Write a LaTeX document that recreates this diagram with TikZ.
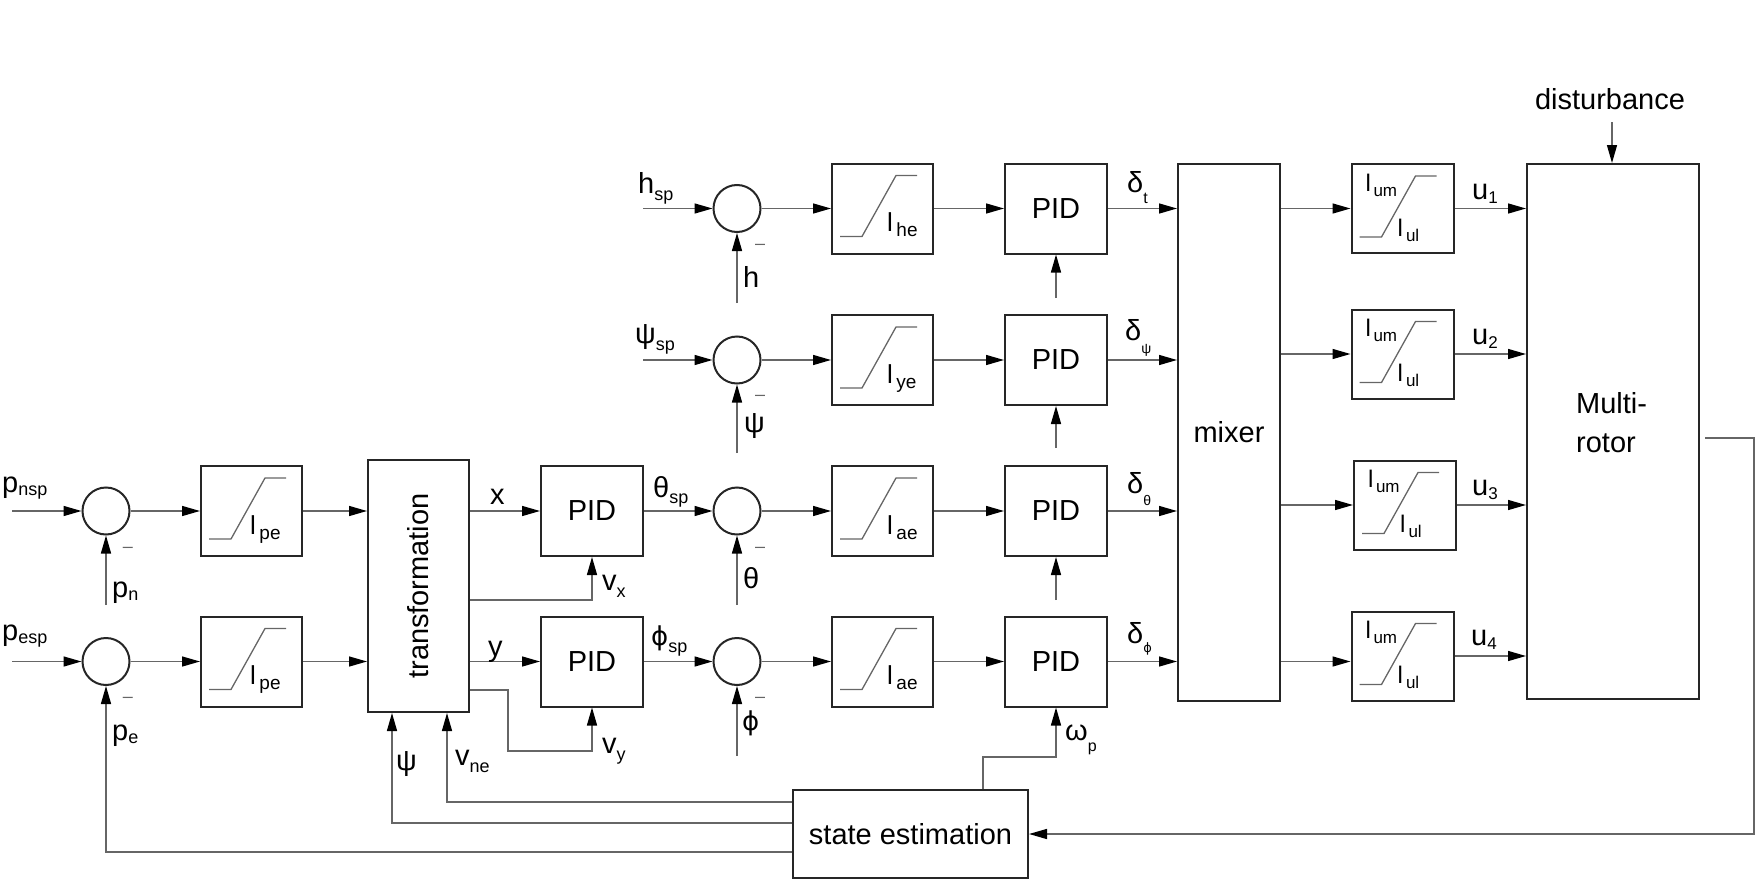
\documentclass[tikz,border=0pt]{standalone}
\usepackage{fontspec}
\setmainfont{Liberation Sans}
\newfontfamily\grk{DejaVu Sans}
\usetikzlibrary{arrows.meta}
\newcommand\fsz[1]{\fontsize{#1}{#1}\selectfont}
\newcommand\sbs[3]{\raisebox{-#1pt}{\fsz{#2}#3}}
\newcommand\phig{{\grk ϕ}}
\begin{document}
\begin{tikzpicture}[x=1pt,y=-1pt,
  box/.style={draw=black!85, line width=2pt, inner sep=0pt, font=\fsz{29}},
  sumc/.style={circle, draw=black!85, line width=2pt, minimum size=47pt, inner sep=0pt},
  conn/.style={draw=black!60, line width=1.4pt},
  arr/.style={conn, -{Triangle[length=18pt,width=10pt,color=black]}},
  glyph/.style={draw=black!60, line width=1.3pt},
  lab/.style={anchor=base west, inner sep=0pt, font=\fsz{29}},
  blab/.style={anchor=base west, inner sep=0pt, font=\fsz{26}},
  ulab/.style={anchor=base west, inner sep=0pt, font=\fsz{24}},
  minus/.style={inner sep=0pt, font=\fsz{18}, text=black!60},
  lbox/.style={box, minimum width=101pt, minimum height=90pt},
  pbox/.style={box, minimum width=102pt, minimum height=90pt},
  ubox/.style={box, minimum width=102pt, minimum height=89pt},
]
\path[use as bounding box] (0,0) rectangle (1757,883);

% summing junctions
\node[sumc] (c1) at (106,511) {};
\node[sumc] (c2) at (106,661.5) {};
\node[sumc] (ch) at (737,208.5) {};
\node[sumc] (cy) at (737,360) {};
\node[sumc] (c3) at (737,511) {};
\node[sumc] (c4) at (737,661.5) {};

% limiter boxes
\node[lbox] (lpe1) at (251.5,511) {};
\node[lbox] (lpe2) at (251.5,661.5) {};
\node[lbox] (lhe) at (882.5,208.5) {};
\node[lbox] (lye) at (882.5,360) {};
\node[lbox] (lae1) at (882.5,511) {};
\node[lbox] (lae2) at (882.5,661.5) {};

% blocks
\node[box, minimum width=101pt, minimum height=252pt] (tr) at (418.5,586) {\rotatebox{90}{transformation}};
\node[pbox] (pidx) at (592,511) {PID};
\node[pbox] (pidy) at (592,661.5) {PID};
\node[pbox] (p1) at (1056,208.5) {PID};
\node[pbox] (p2) at (1056,360) {PID};
\node[pbox] (p3) at (1056,511) {PID};
\node[pbox] (p4) at (1056,661.5) {PID};
\node[box, minimum width=102pt, minimum height=537pt] (mix) at (1229,432.5) {mixer};
\node[ubox] (u1) at (1402.5,208.5) {};
\node[ubox] (u2) at (1402.5,354) {};
\node[ubox] (u3) at (1405,505) {};
\node[ubox] (u4) at (1402.5,656) {};
\node[box, minimum width=172pt, minimum height=535pt] (mr) at (1613,431.5) {};
\node[lab] (mrt1) at (1576,413) {Multi-};
\node[lab] (mrt2) at (1576,452) {rotor};
\node[box, minimum width=235pt, minimum height=88pt] (se) at (910.5,834) {state estimation};

% ramp glyphs
\foreach \b in {lpe1,lpe2,lhe,lye,lae1,lae2,u1,u2,u3,u4}
  \draw[glyph, shift={(\b.north west)}] (9,74) -- (31,74) -- (65,13) -- (86,13);

% limiter labels
\node[blab] (tlpe1) at ([shift={(50,69)}]lpe1.north west) {l\hspace{3.5pt}\sbs{5}{19}{pe}};
\node[blab] (tlpe2) at ([shift={(50,69)}]lpe2.north west) {l\hspace{3.5pt}\sbs{5}{19}{pe}};
\node[blab] (tlhe) at ([shift={(56,69)}]lhe.north west) {l\hspace{3.5pt}\sbs{5}{19}{he}};
\node[blab] (tlye) at ([shift={(56,69)}]lye.north west) {l\hspace{3.5pt}\sbs{5}{19}{ye}};
\node[blab] (tlae1) at ([shift={(56,69)}]lae1.north west) {l\hspace{3.5pt}\sbs{5}{19}{ae}};
\node[blab] (tlae2) at ([shift={(56,69)}]lae2.north west) {l\hspace{3.5pt}\sbs{5}{19}{ae}};
\foreach \b in {u1,u2,u3,u4}{
  \node[ulab] (\b a) at ([shift={(15,28)}]\b.north west) {l\hspace{2.5pt}\sbs{5}{17}{um}};
  \node[ulab] (\b b) at ([shift={(47,73)}]\b.north west) {l\hspace{3pt}\sbs{5}{17}{ul}};
}

% free ends
\coordinate (pn0) at (12,511);
\coordinate (pe0) at (12,661.5);
\coordinate (hs0) at (643,208.5);
\coordinate (ys0) at (643,360);
\coordinate (pnb) at (106,605);
\coordinate (hb) at (737,303);
\coordinate (yb) at (737,453);
\coordinate (thb) at (737,605);
\coordinate (phb) at (737,756);
\coordinate (q1) at (1056,298);
\coordinate (q2) at (1056,448);
\coordinate (q3) at (1056,600);
\coordinate (dst) at (1612,122);
\coordinate (fb) at (1705,438);

% position loop
\draw[arr] (pn0) -- (c1);
\draw[arr] (pe0) -- (c2);
\draw[arr] (pnb) -- (c1);
\draw[arr] (c1) -- (lpe1);
\draw[arr] (c2) -- (lpe2);
\draw[arr] (lpe1.east) -- (lpe1.east -| tr.west);
\draw[arr] (lpe2.east) -- (lpe2.east -| tr.west);
\draw[arr] (tr.east |- pidx.west) -- (pidx.west);
\draw[arr] (tr.east |- pidy.west) -- (pidy.west);
\draw[arr] (tr.east |- 0,600) -| (pidx.south);
\draw[arr] (tr.east |- 0,690) -- (508,690) -- (508,751) -| (pidy.south);
\draw[arr] (pidx) -- (c3);
\draw[arr] (pidy) -- (c4);

% attitude / altitude loops
\draw[arr] (hs0) -- (ch);
\draw[arr] (ys0) -- (cy);
\draw[arr] (hb) -- (ch);
\draw[arr] (yb) -- (cy);
\draw[arr] (thb) -- (c3);
\draw[arr] (phb) -- (c4);
\draw[arr] (ch) -- (lhe);
\draw[arr] (cy) -- (lye);
\draw[arr] (c3) -- (lae1);
\draw[arr] (c4) -- (lae2);
\draw[arr] (lhe) -- (p1);
\draw[arr] (lye) -- (p2);
\draw[arr] (lae1) -- (p3);
\draw[arr] (lae2) -- (p4);
\draw[arr] (q1) -- (p1.south);
\draw[arr] (q2) -- (p2.south);
\draw[arr] (q3) -- (p3.south);
\draw[arr] (se.north -| 983,0) |- (p4.south |- 0,757) -- (p4.south);

% mixer and actuators
\draw[arr] (p1.east) -- (p1.east -| mix.west);
\draw[arr] (p2.east) -- (p2.east -| mix.west);
\draw[arr] (p3.east) -- (p3.east -| mix.west);
\draw[arr] (p4.east) -- (p4.east -| mix.west);
\draw[arr] (u1.west -| mix.east) -- (u1.west);
\draw[arr] (u2.west -| mix.east) -- (u2.west);
\draw[arr] (u3.west -| mix.east) -- (u3.west);
\draw[arr] (mix.east |- p4.east) -- (u4.west |- p4.east);
\draw[arr] (u1.east) -- (u1.east -| mr.west);
\draw[arr] (u2.east) -- (u2.east -| mr.west);
\draw[arr] (u3.east) -- (u3.east -| mr.west);
\draw[arr] (u4.east) -- (u4.east -| mr.west);
\draw[arr] (dst) -- (mr.north -| dst);
\draw[arr] (fb) -- (1754,438) |- (se.east);

% state estimation outputs
\draw[arr] (se.west |- 0,802) -| (tr.south -| 447,0);
\draw[arr] (se.west |- 0,823) -| (tr.south -| 392,0);
\draw[arr] (se.west |- 0,852) -| (c2.south);

% labels
\node[lab, anchor=base] (dist) at (1610,110) {disturbance};
\node[lab] (lpnsp) at (2,492) {p\sbs{3}{18}{nsp}};
\node[lab] (lpn) at (112,597) {p\sbs{3}{18}{n}};
\node[lab] (lpesp) at (2,640) {p\sbs{3}{18}{esp}};
\node[lab] (lpe) at (112,740) {p\sbs{3}{18}{e}};
\node[lab] (lx) at (490,504) {x};
\node[lab] (ly) at (488,656) {y};
\node[lab] (lvx) at (602,590) {v\sbs{7}{18}{x}};
\node[lab] (lvy) at (602,753) {v\sbs{7}{18}{y}};
\node[lab] (lpsi) at (396,770) {ψ};
\node[lab] (lvne) at (455,765) {v\sbs{7}{18}{ne}};
\node[lab] (lthsp) at (653,497) {θ\sbs{6}{18}{sp}};
\node[lab] (lphsp) at (651,645) {{\fsz{26}\phig}\sbs{7}{18}{sp}};
\node[lab] (lth) at (743,588) {θ};
\node[lab] (lph) at (742,730) {{\fsz{26}\phig}};
\node[lab] (lhsp) at (638,193) {h\sbs{7}{18}{sp}};
\node[lab] (lysp) at (635,343) {ψ\sbs{7}{18}{sp}};
\node[lab] (lh) at (743,287) {h};
\node[lab] (lyb) at (744,432) {ψ};
\node[lab] (ldt) at (1127,192) {δ\sbs{11}{16}{t}};
\node[lab] (ldy) at (1125,340) {δ\sbs{13}{14}{ψ}};
\node[lab] (ldth) at (1127,493) {δ\sbs{12}{14}{θ}};
\node[lab] (ldph) at (1127,643) {δ\sbs{9}{13}{\phig}};
\node[lab] (lwp) at (1065,740) {ω\sbs{11}{16}{p}};
\node[lab] (lu1) at (1472,199) {u\sbs{4}{17}{1}};
\node[lab] (lu2) at (1472,344) {u\sbs{4}{17}{2}};
\node[lab] (lu3) at (1472,495) {u\sbs{4}{17}{3}};
\node[lab] (lu4) at (1471,645) {u\sbs{4}{17}{4}};

% minus signs
\node[minus] (m1) at (128,550) {–};
\node[minus] (m2) at (128,700) {–};
\node[minus] (m3) at (760,247) {–};
\node[minus] (m4) at (760,398) {–};
\node[minus] (m5) at (760,550) {–};
\node[minus] (m6) at (760,700) {–};
\end{tikzpicture}
\end{document}
